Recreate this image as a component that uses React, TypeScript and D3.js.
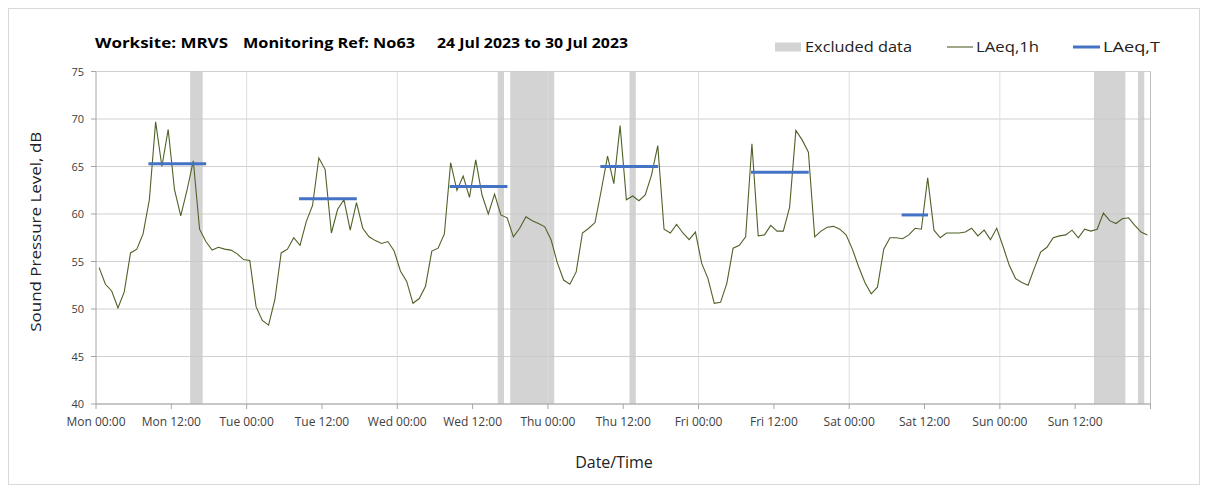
import React from "react";
import * as d3 from "d3";

const laeq1h: number[] = [
  54.35, 52.6, 51.9, 50.1, 51.8, 55.9, 56.3, 57.9, 61.5, 69.7, 65.0, 68.9, 62.6, 59.8, 62.5, 65.6, 58.4, 57.1, 56.2, 56.5, 56.3, 56.2, 55.8, 55.2, 55.1,
  50.25, 48.8, 48.3, 51.0, 55.9, 56.3, 57.5, 56.7, 59.2, 60.9, 65.9, 64.7, 58.0, 60.5, 61.5, 58.3, 61.2, 58.5, 57.6, 57.2, 56.9, 57.1, 56.1, 54.0, 52.9,
  50.6, 51.1, 52.4, 56.1, 56.4, 57.9, 65.4, 62.5, 64.0, 61.75, 65.7, 62.0, 60.0, 62.1, 59.9, 59.6, 57.6, 58.5, 59.7, 59.3, 59.0, 58.65, 57.3, 54.85,
  53.05, 52.6, 53.9, 58.0, 58.5, 59.1, 62.5, 66.1, 63.2, 69.3, 61.5, 61.9, 61.4, 62.0, 64.1, 67.2, 58.4, 58.0, 58.9, 58.0, 57.3, 58.1, 54.8, 53.2,
  50.6, 50.7, 52.7, 56.4, 56.7, 57.6, 67.4, 57.7, 57.8, 58.8, 58.2, 58.2, 60.7, 68.8, 67.8, 66.5, 57.6, 58.2, 58.6, 58.7, 58.4, 57.8, 56.3, 54.45,
  52.8, 51.6, 52.3, 56.3, 57.5, 57.5, 57.4, 57.8, 58.5, 58.4, 63.8, 58.3, 57.5, 58.0, 58.0, 58.0, 58.1, 58.5, 57.7, 58.3, 57.3, 58.5, 56.6, 54.6,
  53.2, 52.8, 52.5, 54.3, 56.0, 56.5, 57.5, 57.7, 57.8, 58.3, 57.5, 58.4, 58.2, 58.4, 60.1, 59.3, 59.0, 59.5, 59.6, 58.8, 58.1, 57.8,
];

const dayNames = ["Mon", "Tue", "Wed", "Thu", "Fri", "Sat", "Sun"];
const tickHours = ["00:00", "12:00"];

// LAeq,T daytime periods (hour of week)
const laeqTValues = [65.3, 61.6, 62.9, 65.0, 64.4, 59.9];
const laeqTStart = [8, 32, 56, 80, 104, 128];
const laeqTEnd = [18, 42, 66, 90, 114, 133];

// Excluded data periods (hour of week)
const excludedStart = [15, 64, 66, 85, 159, 166];
const excludedEnd = [17, 65, 73, 86, 164, 167];

const yTicks = [40, 45, 50, 55, 60, 65, 70, 75];

const titleParts = ["Worksite: MRVS", "Monitoring Ref: No63", "24 Jul 2023 to 30 Jul 2023"];
const legendLabels = ["Excluded data", "LAeq,1h", "LAeq,T"];

const FONT = "'Open Sans', 'DejaVu Sans', sans-serif";

export default function App() {
  const W = 1208;
  const H = 493;
  const left = 96;
  const right = 1150.5;
  const top = 71.5;
  const bottom = 404;

  const x = d3.scaleLinear().domain([0, 168]).range([left, right]);
  const y = d3.scaleLinear().domain([40, 75]).range([bottom, top]);

  const line = d3
    .line<number>()
    .x((_, i) => x(i + 0.5))
    .y((d) => y(d));

  const xTicks = d3.range(0, 169, 12);
  const dayGrid = d3.range(24, 168, 24);

  const titleX = [95, 243, 437];
  const titleLen = [133, 172, 191];

  return (
    <svg
      width={W}
      height={H}
      style={{ position: "absolute", left: 0, top: 0, background: "#fff" }}
      fontFamily={FONT}
    >
      <rect x={8.5} y={8.5} width={1191} height={476} fill="#fff" stroke="#d9d9d9" />

      {/* excluded bands */}
      {excludedStart.map((s, i) => (
        <rect
          key={"ex" + i}
          x={x(s)}
          y={top}
          width={x(excludedEnd[i]) - x(s)}
          height={bottom - top}
          fill="#d3d3d3"
        />
      ))}

      {/* horizontal grid */}
      {yTicks.map((t) => (
        <line
          key={"hg" + t}
          x1={left}
          x2={right}
          y1={y(t)}
          y2={y(t)}
          stroke="#c8c8c8"
          strokeOpacity={0.85}
          strokeWidth={1}
        />
      ))}
      {/* vertical day grid */}
      {dayGrid.map((h) => (
        <line
          key={"vg" + h}
          x1={x(h)}
          x2={x(h)}
          y1={top}
          y2={bottom}
          stroke="#d9d9d9"
          strokeOpacity={0.9}
        />
      ))}
      <line x1={right} x2={right} y1={top} y2={bottom} stroke="#bfbfbf" />

      {/* axes */}
      <line x1={left} x2={left} y1={top} y2={bottom} stroke="#a6a6a6" />
      <line x1={left} x2={right} y1={bottom} y2={bottom} stroke="#a6a6a6" />
      {yTicks.map((t) => (
        <g key={"yt" + t}>
          <line x1={left - 5} x2={left} y1={y(t)} y2={y(t)} stroke="#a6a6a6" />
          <text x={left - 12} y={y(t) + 4} textAnchor="end" fontSize={11} fill="#404040">
            {t}
          </text>
        </g>
      ))}
      {xTicks.map((h) => (
        <g key={"xt" + h}>
          <line x1={x(h)} x2={x(h)} y1={bottom} y2={bottom + 5} stroke="#a6a6a6" />
          {h < 168 && (
            <text x={x(h)} y={bottom + 22} textAnchor="middle" fontSize={12} fill="#404040">
              {dayNames[Math.floor(h / 24)] + " " + tickHours[(h % 24) / 12]}
            </text>
          )}
        </g>
      ))}

      {/* LAeq,1h */}
      <path d={line(laeq1h) || ""} fill="none" stroke="#4f6228" strokeWidth={1.1} />

      {/* LAeq,T */}
      {laeqTValues.map((v, i) => (
        <line
          key={"lt" + i}
          x1={x(laeqTStart[i] + 0.35)}
          x2={x(laeqTEnd[i] - 0.45)}
          y1={y(v)}
          y2={y(v)}
          stroke="#4472c4"
          strokeWidth={3}
        />
      ))}

      {/* title */}
      {titleParts.map((t, i) => (
        <text
          key={"ti" + i}
          x={titleX[i]}
          y={48}
          fontSize={14.5}
          fontWeight="bold"
          fill="#000"
          textLength={titleLen[i]}
          lengthAdjust="spacingAndGlyphs"
        >
          {t}
        </text>
      ))}

      {/* legend */}
      <rect x={775} y={42.5} width={26} height={9} fill="#d3d3d3" />
      <text x={805} y={51.5} fontSize={15} fill="#222" textLength={107} lengthAdjust="spacingAndGlyphs">
        {legendLabels[0]}
      </text>
      <line x1={947} x2={973} y1={47} y2={47} stroke="#4f6228" strokeWidth={1.1} />
      <text x={976} y={51.5} fontSize={15} fill="#222" textLength={63} lengthAdjust="spacingAndGlyphs">
        {legendLabels[1]}
      </text>
      <line x1={1073} x2={1100} y1={47} y2={47} stroke="#4472c4" strokeWidth={3} />
      <text x={1103} y={51.5} fontSize={15} fill="#222" textLength={57} lengthAdjust="spacingAndGlyphs">
        {legendLabels[2]}
      </text>

      {/* axis titles */}
      <text
        transform={`translate(41, ${(top + bottom) / 2 - 6}) rotate(-90)`}
        textAnchor="middle"
        fontSize={15}
        fill="#222"
        textLength={200}
        lengthAdjust="spacingAndGlyphs"
      >
        Sound Pressure Level, dB
      </text>
      <text x={614} y={468} textAnchor="middle" fontSize={16} fill="#222">
        Date/Time
      </text>
    </svg>
  );
}
